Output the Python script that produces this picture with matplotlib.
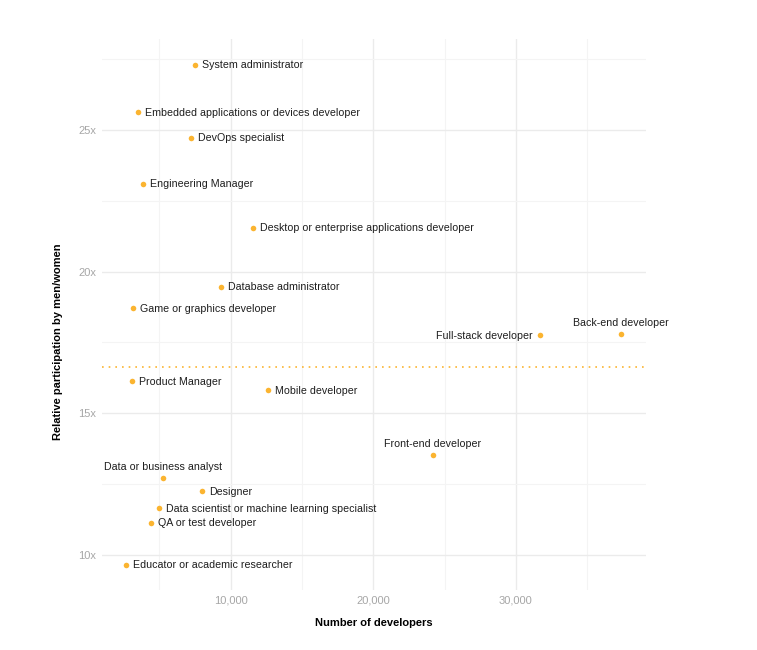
import matplotlib
matplotlib.use("Agg")
import matplotlib.pyplot as plt
from matplotlib.ticker import FixedLocator, FuncFormatter

plt.rcParams['font.family'] = ['Liberation Sans', 'DejaVu Sans']

roles = ["System administrator", "Embedded applications or devices developer", "DevOps specialist",
         "Engineering Manager", "Desktop or enterprise applications developer", "Database administrator",
         "Game or graphics developer", "Full-stack developer", "Back-end developer", "Product Manager",
         "Mobile developer", "Front-end developer", "Data or business analyst", "Designer",
         "Data scientist or machine learning specialist", "QA or test developer",
         "Educator or academic researcher"]
developers = [7500, 3500, 7220, 3860, 11570, 9330, 3160, 31700, 37380, 3090,
              12620, 24190, 5260, 7990, 4980, 4420, 2670]
ratio = [27.29, 25.63, 24.72, 23.10, 21.55, 19.47, 18.70, 17.75, 17.78, 16.13,
         15.81, 13.52, 12.71, 12.25, 11.65, 11.13, 9.65]
label_pos = ["right", "right", "right", "right", "right", "right", "right", "left", "above", "right",
             "right", "above", "above", "right", "right", "right", "right"]
average_ratio = 16.62
x_ticks = [10000, 20000, 30000]
y_ticks = [10, 15, 20, 25]

orange = "#fbb430"
fig = plt.figure(figsize=(7.57, 6.5), dpi=100)
ax = fig.add_axes([102/757, 60/650, 544/757, 551/650])
ax.set_xlim(982, 39130)
ax.set_ylim(8.76, 28.21)

ax.xaxis.set_major_locator(FixedLocator(x_ticks))
ax.xaxis.set_minor_locator(FixedLocator([5000, 15000, 25000, 35000]))
ax.yaxis.set_major_locator(FixedLocator(y_ticks))
ax.yaxis.set_minor_locator(FixedLocator([12.5, 17.5, 22.5, 27.5]))
ax.xaxis.set_major_formatter(FuncFormatter(lambda v, p: f"{int(v):,}"))
ax.yaxis.set_major_formatter(FuncFormatter(lambda v, p: f"{int(v)}x"))
ax.grid(which="major", color="#ebebeb", linewidth=1.0)
ax.grid(which="minor", color="#f4f4f4", linewidth=0.8)
ax.set_axisbelow(True)
for s in ax.spines.values():
    s.set_visible(False)
ax.tick_params(which="both", length=0)
ax.tick_params(axis="both", labelsize=8, labelcolor="#a6a6a6", pad=4)

ax.axhline(average_ratio, color=orange, linestyle=(0, (1, 3)), linewidth=1.2)
ax.scatter(developers, ratio, s=16, color=orange, zorder=3, linewidths=0)

for name, xv, yv, pos in zip(roles, developers, ratio, label_pos):
    if pos == "right":
        ax.annotate(name, (xv, yv), xytext=(5, -0.3), textcoords="offset points",
                    ha="left", va="center", fontsize=7.7, color="#1e1e1e")
    elif pos == "left":
        ax.annotate(name, (xv, yv), xytext=(-5, -0.3), textcoords="offset points",
                    ha="right", va="center", fontsize=7.7, color="#1e1e1e")
    else:
        ax.annotate(name, (xv, yv), xytext=(0, 4.5), textcoords="offset points",
                    ha="center", va="bottom", fontsize=7.7, color="#1e1e1e")

ax.set_xlabel("Number of developers", fontsize=8, fontweight="bold", va="center")
ax.xaxis.set_label_coords(0.5, (590 - 623) / 551)
ax.set_ylabel("Relative participation by men/women", fontsize=8, fontweight="bold", va="center")
ax.yaxis.set_label_coords((58 - 102) / 544, (590 - 342) / 551)

fig.savefig("out.png", dpi=100, facecolor="white")
